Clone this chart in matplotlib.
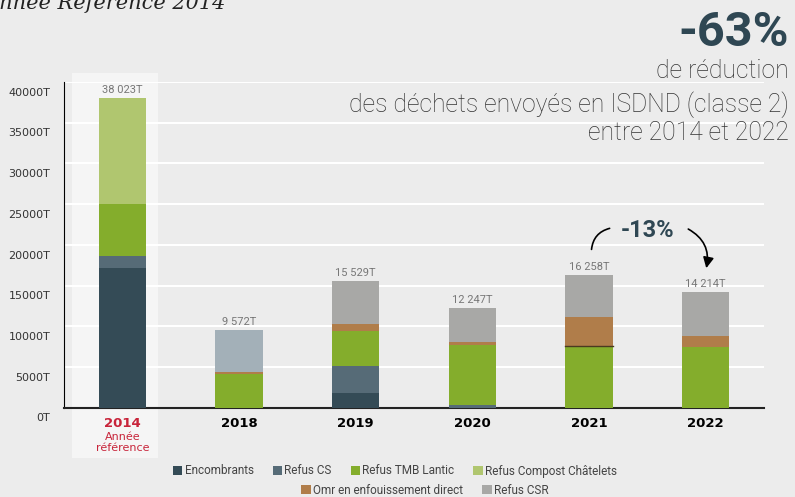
import numpy as np
import matplotlib
matplotlib.use("Agg")
import matplotlib.pyplot as plt
from matplotlib.patches import Rectangle, Patch
from matplotlib.transforms import blended_transform_factory, ScaledTranslation

# tonnages envoyés en ISDND par année
annees = ['2014', '2018', '2019', '2020', '2021', '2022']
encombrants = [17200, 0, 1810, 0, 0, 0]
refus_cs = [1370, 0, 3320, 330, 0, 0]
refus_tmb = [6480, 4180, 4300, 7380, 7630, 7470]
refus_compost = [12973, 0, 0, 0, 0, 0]
omr_direct = [0, 250, 870, 370, 3530, 1350]
refus_csr = [0, 5142, 5229, 4167, 5098, 5394]
totaux = [38023, 9572, 15529, 12247, 16258, 14214]
etiquettes = ['38 023T', '9 572T', '15 529T', '12 247T', '16 258T', '14 214T']

series = ['Encombrants', 'Refus CS', 'Refus TMB Lantic', 'Refus Compost Châtelets',
          'Omr en enfouissement direct', 'Refus CSR']
couleurs = ['#344b56', '#566b77', '#84ad2c', '#b0c66f', '#b07d4a', '#a8a8a6']

fond = '#ececec'
ardoise = '#2f4753'
rouge = '#c8243a'

fig = plt.figure(figsize=(7.95, 4.97), dpi=100, facecolor=fond)
ax = fig.add_axes([64 / 795, 1 - 407.7 / 497, 700 / 795, (407.7 - 82) / 497])
ax.set_facecolor('none')

x = np.arange(len(annees))
largeur = 0.403
bas = np.zeros(len(annees))
valeurs = [encombrants, refus_cs, refus_tmb, refus_compost, omr_direct, refus_csr]
for nom, vals, c in zip(series, valeurs, couleurs):
    cols = [c] * len(annees)
    if nom == 'Refus CSR':
        cols[1] = '#a3b0b8'  # 2018 : CSR en gris bleuté
    ax.bar(x, vals, largeur, bottom=bas, color=cols, zorder=3, linewidth=0)
    bas += np.array(vals)

# fine séparation sombre en 2021
ax.plot([x[4] - largeur / 2, x[4] + largeur / 2], [refus_tmb[4]] * 2,
        color='#4a3a20', lw=1, zorder=4)

for xi, tot, lab in zip(x, totaux, etiquettes):
    ax.text(xi, tot + 400, lab, ha='center', va='bottom', fontsize=8,
            color='#777777', family='Roboto', zorder=5)

ax.set_xlim(-0.5, 5.5)
ax.set_ylim(0, 40000)
ax.set_yticks(np.arange(0, 40001, 5000))
ax.set_yticklabels([f'{v}T' for v in range(0, 40001, 5000)])
ax.grid(axis='y', color='white', lw=1.5, zorder=0)
ax.set_axisbelow(True)
for s in ['top', 'right']:
    ax.spines[s].set_visible(False)
ax.spines['left'].set_color('black')
ax.spines['bottom'].set_color('#222222')
ax.spines['bottom'].set_linewidth(1.5)
ax.tick_params(axis='y', length=0, pad=10, labelsize=8, labelcolor='#333333')
ax.tick_params(axis='x', length=0, pad=7)
for lab in ax.get_yticklabels():
    lab.set_transform(lab.get_transform() + ScaledTranslation(0, -7 / 72, fig.dpi_scale_trans))

ax.set_xticks(x)
ax.set_xticklabels(annees, fontweight='bold', fontsize=9.5)
ax.get_xticklabels()[0].set_color(rouge)
tr = blended_transform_factory(ax.transData, fig.transFigure)
fig.text(0, 1 - 437.5 / 497, 'Année', transform=tr, ha='center', va='center',
         fontsize=8, color=rouge)
fig.text(0, 1 - 448 / 497, 'référence', transform=tr, ha='center', va='center',
         fontsize=8, color=rouge)

# bandeau clair derrière l'année de référence
fig.patches.append(Rectangle((-0.433, 1 - 458 / 497), 0.735, (458 - 73) / 497,
                             transform=tr, facecolor='#f5f5f5', edgecolor='none', zorder=-1))

# titres
fig.text(0.9925, 1 - 46 / 497, '-63%', ha='right', va='baseline', fontsize=35,
         fontweight='bold', color=ardoise, family='Roboto')
for txt, y in [('de réduction', 78), ('des déchets envoyés en ISDND (classe 2)', 112),
               ('entre 2014 et 2022', 140)]:
    fig.text(0.9925, 1 - y / 497, txt, ha='right', va='baseline', fontsize=17.8,
             fontweight='light', color='#333333', family='Roboto')

fig.text(-0.02, 1 - 9 / 497, 'Année Référence 2014', ha='left', va='baseline',
         fontsize=15, style='italic', family='DejaVu Serif', color='#222222')

# flèche -13% entre 2021 et 2022
ax.text(4.5, 21800, '-13%', ha='center', va='center', fontsize=17, fontweight='bold',
        color=ardoise, family='Roboto', zorder=6)
ax.annotate('', xy=(4.2, 22100), xytext=(4.02, 19100),
            arrowprops=dict(arrowstyle='-', color='black', lw=1.2,
                            connectionstyle='arc3,rad=-0.4'), zorder=6)
ax.annotate('', xy=(5.0, 16800), xytext=(4.83, 22100),
            arrowprops=dict(arrowstyle='-|>', color='black', lw=1.2, mutation_scale=16,
                            connectionstyle='arc3,rad=-0.4'), zorder=6)

poignees = [Patch(facecolor=c, edgecolor='none') for c in couleurs]
kw = dict(frameon=False, fontsize=8.5, handlelength=0.8, handleheight=0.8,
          handletextpad=0.2, columnspacing=1.6, labelcolor='#444444')
leg1 = fig.legend(poignees[:4], series[:4], ncol=4, loc='center',
                  bbox_to_anchor=(395 / 795, 1 - 471 / 497), **kw)
leg2 = fig.legend(poignees[4:], series[4:], ncol=2, loc='center',
                  bbox_to_anchor=(425 / 795, 1 - 490 / 497), **kw)
for t in leg1.get_texts() + leg2.get_texts():
    t.set_family('Roboto')

fig.savefig('out.png', dpi=100, facecolor=fond)
